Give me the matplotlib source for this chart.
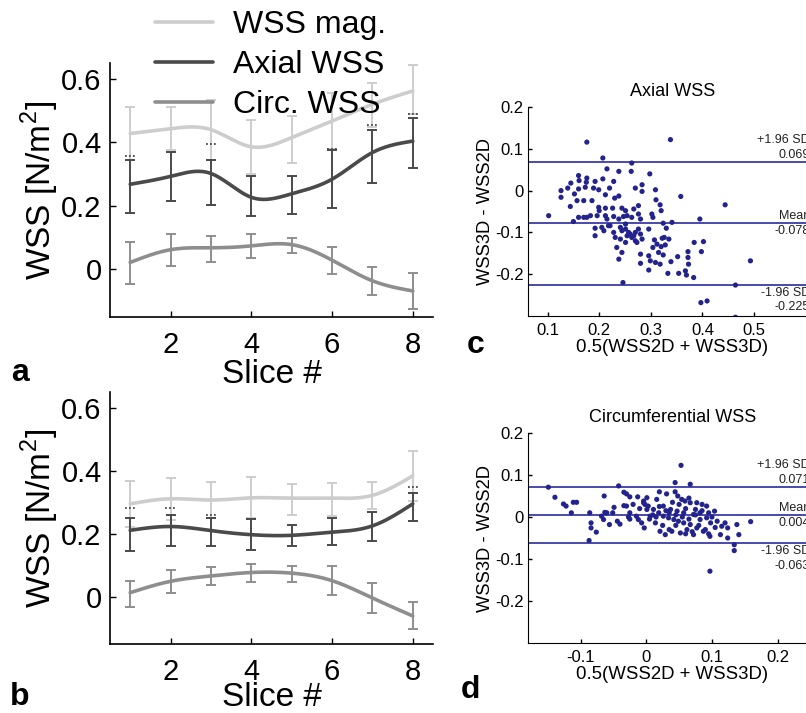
import matplotlib

matplotlib.use("Agg")
import matplotlib.pyplot as plt
import numpy as np

plt.rcParams["font.family"] = ["Liberation Sans", "DejaVu Sans"]
plt.rcParams["mathtext.fontset"] = "custom"
plt.rcParams["mathtext.rm"] = "Liberation Sans"
plt.rcParams["axes.unicode_minus"] = False

# ---- panels a / b: WSS per slice (mean, lower and upper error bar ends) ----
SLICES = [1, 2, 3, 4, 5, 6, 7, 8]
SERIES_LABELS = ["WSS mag.", "Axial WSS", "Circ. WSS"]

mag_a = [0.428, 0.443, 0.440, 0.386, 0.415, 0.467, 0.520, 0.562]
mag_a_lo = [0.344, 0.375, 0.346, 0.300, 0.334, 0.380, 0.450, 0.490]
mag_a_hi = [0.511, 0.510, 0.532, 0.469, 0.484, 0.555, 0.586, 0.644]
axial_a = [0.268, 0.293, 0.302, 0.227, 0.238, 0.284, 0.368, 0.404]
axial_a_lo = [0.177, 0.214, 0.203, 0.167, 0.175, 0.194, 0.271, 0.318]
axial_a_hi = [0.346, 0.371, 0.344, 0.295, 0.295, 0.375, 0.440, 0.477]
axial_a_dot = [0.357, np.nan, 0.396, np.nan, np.nan, 0.378, 0.454, 0.490]
circ_a = [0.022, 0.062, 0.068, 0.074, 0.078, 0.029, -0.036, -0.068]
circ_a_lo = [-0.046, 0.010, 0.024, 0.036, 0.053, -0.015, -0.080, -0.125]
circ_a_hi = [0.086, 0.112, 0.106, 0.112, 0.100, 0.071, 0.008, -0.012]

mag_b = [0.295, 0.311, 0.307, 0.314, 0.313, 0.313, 0.322, 0.384]
mag_b_lo = [0.220, 0.245, 0.250, 0.250, 0.260, 0.255, 0.280, 0.305]
mag_b_hi = [0.369, 0.377, 0.363, 0.379, 0.359, 0.360, 0.363, 0.463]
axial_b = [0.211, 0.223, 0.210, 0.197, 0.195, 0.205, 0.225, 0.295]
axial_b_lo = [0.145, 0.160, 0.160, 0.150, 0.160, 0.163, 0.177, 0.239]
axial_b_hi = [0.250, 0.260, 0.250, 0.246, 0.228, 0.249, 0.269, 0.330]
axial_b_dot = [0.281, 0.283, 0.260, 0.246, np.nan, np.nan, np.nan, 0.350]
circ_b = [0.013, 0.049, 0.066, 0.077, 0.075, 0.051, -0.004, -0.061]
circ_b_lo = [-0.032, 0.013, 0.037, 0.047, 0.047, 0.005, -0.050, -0.101]
circ_b_hi = [0.051, 0.086, 0.094, 0.105, 0.099, 0.097, 0.044, -0.018]

# ---- panel c: Bland-Altman, axial WSS ----
axial_mean_x = [
    0.176, 0.207, 0.263, 0.215, 0.262, 0.238, 0.160, 0.161, 0.176, 0.175,
    0.192, 0.207, 0.228, 0.145, 0.126, 0.126, 0.139, 0.152, 0.160, 0.173,
    0.189, 0.199, 0.220, 0.212, 0.186, 0.230, 0.238, 0.157, 0.170, 0.144,
    0.199, 0.270, 0.283, 0.283, 0.276, 0.267, 0.244, 0.226, 0.212, 0.200,
    0.251, 0.254, 0.263, 0.276, 0.280, 0.212, 0.228, 0.238, 0.247, 0.215,
    0.196, 0.183, 0.160, 0.170, 0.176, 0.150, 0.102, 0.192, 0.192, 0.205,
    0.209, 0.218, 0.221, 0.228, 0.231, 0.241, 0.244, 0.251, 0.251, 0.257,
    0.254, 0.260, 0.263, 0.267, 0.270, 0.270, 0.276, 0.280, 0.283, 0.273,
    0.251, 0.241, 0.234, 0.238, 0.244, 0.280, 0.280, 0.246,
    0.338, 0.298, 0.309, 0.310, 0.318, 0.320, 0.302, 0.304, 0.358, 0.444,
    0.395, 0.341, 0.324, 0.330, 0.296, 0.307, 0.322, 0.326, 0.335, 0.312,
    0.304, 0.320, 0.328, 0.315, 0.324, 0.296, 0.299, 0.309, 0.318, 0.339,
    0.352, 0.372, 0.372, 0.373, 0.384, 0.402, 0.398, 0.493, 0.296, 0.333,
    0.354, 0.367, 0.369, 0.383, 0.464, 0.397, 0.409, 0.464,
]
axial_diff_y = [
    0.116, 0.078, 0.066, 0.052, 0.046, 0.046, 0.036, 0.024, 0.030, 0.020,
    0.022, 0.028, 0.022, 0.018, 0.000, -0.016, 0.006, -0.008, 0.004, 0.008,
    0.006, 0.002, 0.006, -0.010, -0.024, -0.018, -0.013, -0.024, -0.024, -0.038,
    -0.040, 0.006, 0.014, -0.002, -0.036, -0.044, -0.042, -0.042, -0.042, -0.048,
    -0.048, -0.060, -0.064, -0.056, -0.068, -0.060, -0.062, -0.068, -0.062, -0.068,
    -0.060, -0.060, -0.064, -0.064, -0.064, -0.074, -0.060, -0.090, -0.108, -0.088,
    -0.096, -0.084, -0.084, -0.100, -0.112, -0.088, -0.096, -0.080, -0.092, -0.100,
    -0.108, -0.104, -0.112, -0.108, -0.120, -0.100, -0.092, -0.104, -0.116, -0.124,
    -0.124, -0.116, -0.136, -0.164, -0.148, -0.152, -0.174, -0.220,
    0.122, 0.040, 0.002, -0.022, -0.034, -0.048, -0.056, -0.064, -0.014, -0.034,
    -0.068, -0.076, -0.078, -0.090, -0.092, -0.118, -0.114, -0.112, -0.116, -0.128,
    -0.136, -0.134, -0.130, -0.148, -0.154, -0.156, -0.168, -0.172, -0.176, -0.170,
    -0.158, -0.146, -0.160, -0.176, -0.124, -0.122, -0.146, -0.168, -0.190, -0.198,
    -0.198, -0.192, -0.202, -0.208, -0.226, -0.268, -0.264, -0.303,
]
axial_limits = {"upper": 0.069, "mean": -0.078, "lower": -0.225}

# ---- panel d: Bland-Altman, circumferential WSS ----
circ_mean_x = [
    -0.149, -0.139, -0.126, -0.122, -0.111, -0.106, -0.114, -0.086, -0.084, -0.084,
    -0.076, -0.087, -0.064, -0.068, -0.065, -0.063, -0.060, -0.056, -0.051, -0.049,
    -0.044, -0.040, -0.042, -0.034, -0.030, -0.034, -0.030, -0.025, -0.027, -0.025,
    -0.015, -0.012, -0.007, -0.003, -0.013, -0.004, -0.002, 0.001, -0.025, 0.053,
    0.044, 0.067, 0.020, 0.031, 0.044, 0.048, 0.054, 0.059, 0.067, 0.077,
    0.085, 0.092, 0.095, 0.104, 0.108, 0.098, 0.120, 0.124, 0.124, 0.134,
    0.134, 0.141, 0.159, 0.115, 0.113, 0.097, 0.087, 0.077, 0.067, 0.057,
    0.049, 0.042, 0.034, 0.026, 0.019, 0.011, 0.003, -0.004, 0.021, 0.029,
    0.039, 0.052, 0.062, 0.072, 0.082, 0.092, 0.037, 0.047, 0.057, 0.072,
    0.082, 0.014, 0.006, 0.001, 0.016, 0.026, 0.097, 0.138,
    0.035, 0.045, 0.055, 0.060, 0.065, 0.075, 0.080, 0.085, 0.090, 0.070,
    0.050, 0.040, 0.030, 0.020, 0.010, 0.005, -0.010, -0.020, 0.025, 0.060,
    0.100, 0.105, 0.095, 0.045, 0.065, 0.075, 0.035, 0.015,
]
circ_diff_y = [
    0.071, 0.047, 0.031, 0.026, 0.035, 0.035, 0.010, 0.010, -0.014, -0.026,
    -0.036, -0.056, 0.050, 0.002, -0.006, 0.011, 0.010, -0.018, 0.010, 0.023,
    -0.010, -0.017, 0.074, 0.059, 0.055, 0.027, 0.026, 0.010, 0.000, -0.005,
    0.002, -0.006, -0.014, -0.026, 0.048, 0.038, 0.030, 0.018, 0.048, 0.123,
    0.082, 0.078, 0.060, 0.055, 0.060, 0.050, 0.042, 0.038, 0.034, 0.034,
    0.030, 0.026, 0.010, 0.014, -0.010, -0.014, -0.014, -0.026, -0.050, -0.066,
    -0.080, -0.042, -0.011, -0.022, -0.042, -0.046, -0.034, -0.026, -0.018, -0.014,
    -0.010, -0.006, -0.002, 0.002, 0.010, 0.018, 0.026, 0.034, -0.034, -0.042,
    -0.034, -0.038, -0.030, -0.042, -0.006, -0.002, 0.018, 0.014, 0.010, 0.006,
    0.010, -0.014, 0.002, 0.046, 0.042, 0.026, -0.129, -0.018,
    0.010, -0.020, 0.000, 0.020, -0.005, 0.018, -0.020, 0.015, -0.030, -0.035,
    0.030, 0.035, 0.015, 0.025, 0.005, -0.005, 0.020, 0.030, -0.020, -0.040,
    0.000, -0.025, -0.040, 0.005, 0.045, 0.005, -0.030, 0.000,
]
circ_limits = {"upper": 0.071, "mean": 0.004, "lower": -0.063}

LIGHT, DARK, MID = "#cdcdcd", "#4a4a4a", "#8e8e8e"
DOT_BLUE, LINE_BLUE = "#23238e", "#2b2ba0"


def natural_spline(x, y, n=240):
    x = np.asarray(x, float)
    y = np.asarray(y, float)
    k = len(x)
    h = np.diff(x)
    A = np.zeros((k, k))
    r = np.zeros(k)
    A[0, 0] = A[-1, -1] = 1.0
    for i in range(1, k - 1):
        A[i, i - 1] = h[i - 1]
        A[i, i] = 2 * (h[i - 1] + h[i])
        A[i, i + 1] = h[i]
        r[i] = 3 * ((y[i + 1] - y[i]) / h[i] - (y[i] - y[i - 1]) / h[i - 1])
    c = np.linalg.solve(A, r)
    b = (y[1:] - y[:-1]) / h - h * (2 * c[:-1] + c[1:]) / 3
    d = (c[1:] - c[:-1]) / (3 * h)
    xs = np.linspace(x[0], x[-1], n)
    idx = np.clip(np.searchsorted(x, xs) - 1, 0, k - 2)
    t = xs - x[idx]
    return xs, y[idx] + b[idx] * t + c[idx] * t ** 2 + d[idx] * t ** 3


def draw_profile(ax, series, dots, xlabelpad):
    lines = []
    for (vals, lo, hi), color in zip(series, (LIGHT, DARK, MID)):
        vals, lo, hi = np.array(vals), np.array(lo), np.array(hi)
        ax.errorbar(SLICES, vals, yerr=[vals - lo, hi - vals], fmt="none", ecolor=color,
                    elinewidth=1.4, capsize=3.6, capthick=1.4, zorder=2)
        xs, ys = natural_spline(SLICES, vals)
        (line,) = ax.plot(xs, ys, color=color, lw=2.6, zorder=3, solid_capstyle="round")
        lines.append(line)
    sx = np.array(SLICES, float)
    ax.hlines(dots, sx - 0.13, sx + 0.13, colors=DARK, linestyles=(0, (1, 1.2)), lw=1.3, zorder=2)

    ax.set_xlim(0.5, 8.5)
    ax.set_ylim(-0.15, 0.65)
    ax.set_xticks([2, 4, 6, 8])
    ax.set_yticks([0, 0.2, 0.4, 0.6])
    ax.set_yticklabels(["0", "0.2", "0.4", "0.6"])
    ax.tick_params(direction="in", length=4, width=1, labelsize=21)
    ax.tick_params(axis="x", pad=10)
    ax.tick_params(axis="y", pad=6)
    ax.set_xlabel("Slice #", fontsize=24, labelpad=xlabelpad)
    ax.set_ylabel("WSS [N/m$^2$]", fontsize=24, labelpad=0)
    for side in ("top", "right"):
        ax.spines[side].set_visible(False)
    for side in ("left", "bottom"):
        ax.spines[side].set_linewidth(1.2)
    return lines


def draw_bland_altman(ax, xv, yv, limits, title, xlim, xticks):
    ax.scatter(xv, yv, s=14, color=DOT_BLUE, edgecolors="none", zorder=3)
    for key in ("upper", "mean", "lower"):
        ax.axhline(limits[key], color=LINE_BLUE, lw=1.2, zorder=2)
    tr = ax.get_yaxis_transform()
    xr = 0.975
    kw = dict(transform=tr, ha="right", va="center", fontsize=9, color="#222222")
    ax.text(xr, limits["upper"] + 0.052, "+1.96 SD", **kw)
    ax.text(xr, limits["upper"] + 0.016, f"{limits['upper']:.3f}", **kw)
    ax.text(xr, limits["mean"] + 0.018, "Mean", **kw)
    ax.text(xr, limits["mean"] - 0.018, f"{limits['mean']:.3f}", **kw)
    ax.text(xr, limits["lower"] - 0.019, "-1.96 SD", **kw)
    ax.text(xr, limits["lower"] - 0.053, f"{limits['lower']:.3f}", **kw)

    ax.set_xlim(*xlim)
    ax.set_ylim(-0.3, 0.2)
    ax.set_xticks(xticks)
    ax.set_xticklabels([f"{t:g}" for t in xticks])
    ax.set_yticks([-0.2, -0.1, 0, 0.1, 0.2])
    ax.set_yticklabels(["-0.2", "-0.1", "0", "0.1", "0.2"])
    ax.tick_params(direction="in", length=3, width=1, labelsize=12, pad=3)
    ax.tick_params(axis="x", pad=5)
    ax.set_title(title, fontsize=13, pad=8)
    ax.set_xlabel("0.5(WSS2D + WSS3D)", fontsize=13.4, labelpad=1)
    ax.set_ylabel("WSS3D - WSS2D", fontsize=13.2, labelpad=1)
    for side in ("top", "right"):
        ax.spines[side].set_visible(False)


W, H = 806, 713
fig = plt.figure(figsize=(W / 100, H / 100), dpi=100)


def px_axes(left, top, right, bottom):
    return fig.add_axes([left / W, 1 - bottom / H, (right - left) / W, (bottom - top) / H])


ax_a = px_axes(110, 63, 433, 317)
ax_b = px_axes(110, 392, 433, 644)
ax_c = px_axes(528, 107, 817, 316)
ax_d = px_axes(528, 433, 817, 643)

handles = draw_profile(ax_a, [(mag_a, mag_a_lo, mag_a_hi), (axial_a, axial_a_lo, axial_a_hi),
                              (circ_a, circ_a_lo, circ_a_hi)], axial_a_dot, 0)
draw_profile(ax_b, [(mag_b, mag_b_lo, mag_b_hi), (axial_b, axial_b_lo, axial_b_hi),
                    (circ_b, circ_b_lo, circ_b_hi)], axial_b_dot, -3)

ax_a.legend(handles, SERIES_LABELS, loc="upper left", bbox_to_anchor=(155 / W, 1 - 10 / H),
            bbox_transform=fig.transFigure, frameon=False, fontsize=23, borderpad=0,
            borderaxespad=0, handlelength=1.8, handletextpad=0.63, labelspacing=0.32)

draw_bland_altman(ax_c, axial_mean_x, axial_diff_y, axial_limits, "Axial WSS",
                  (0.062, 0.622), [0.1, 0.2, 0.3, 0.4, 0.5])
draw_bland_altman(ax_d, circ_mean_x, circ_diff_y, circ_limits, "Circumferential WSS",
                  (-0.18, 0.26), [-0.1, 0, 0.1, 0.2])

for letter, x, y in (("a", 20, 373), ("b", 20, 697), ("c", 476, 345), ("d", 470, 690)):
    fig.text(x / W, 1 - y / H, letter, fontsize=23, fontweight="bold", ha="center", va="center")

fig.savefig("out.png", dpi=100)
